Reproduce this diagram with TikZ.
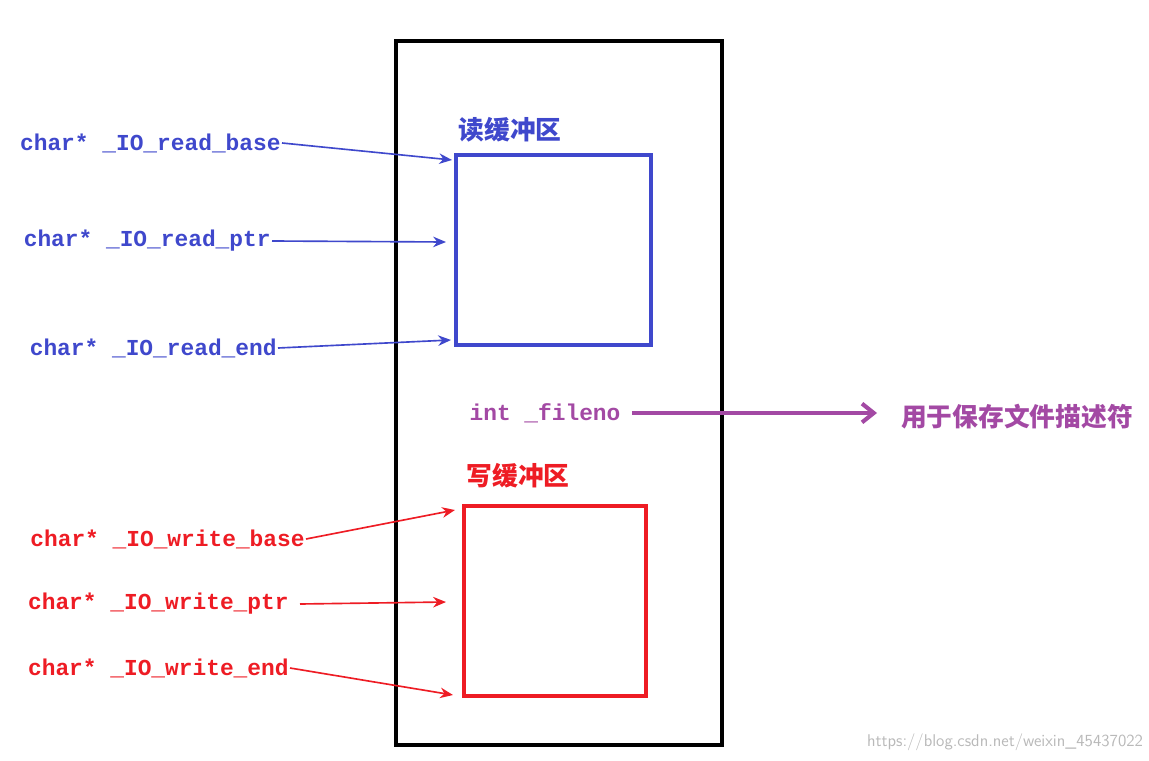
\documentclass[tikz,border=0pt]{standalone}
\usepackage{fontspec}
\setmonofont{Liberation Mono}
\newfontfamily\cjk{Noto Sans CJK SC}
\usetikzlibrary{arrows.meta}
\definecolor{bl}{HTML}{3F48CC}
\definecolor{rd}{HTML}{EE1C24}
\definecolor{pu}{HTML}{A349A4}
\tikzset{lbl/.style={font=\ttfamily\bfseries\fontsize{19.5}{22}\selectfont,inner sep=1pt},
cj/.style={font=\cjk\bfseries\fontsize{22}{24}\selectfont,inner sep=1pt},
arr/.style={-{Stealth[length=11pt,width=9pt]},line width=1.4pt}}
\begin{document}
\begin{tikzpicture}[x=0.03cm,y=-0.03cm]
\useasboundingbox (0,0) rectangle (1149,761);
\fill[white] (0,0) rectangle (1149,761);
\draw[line width=3pt] (396,41) rectangle (722,745);
\node[draw=bl,line width=3pt,minimum width=195*0.03cm,minimum height=190*0.03cm,inner sep=0] (rb) at (553.5,250) {};
\node[draw=rd,line width=3pt,minimum width=182*0.03cm,minimum height=190*0.03cm,inner sep=0] (wb) at (555,601) {};
\node[cj,text=bl] (rt) at (510,130) {读缓冲区};
\node[cj,text=rd] (wt) at (518,476) {写缓冲区};
\node[lbl,text=bl,anchor=east] (a1) at (282,143) {char* \_IO\_read\_base};
\node[lbl,text=bl,anchor=east] (a2) at (272,241) {char* \_IO\_read\_ptr};
\node[lbl,text=bl,anchor=east] (a3) at (278,348) {char* \_IO\_read\_end};
\node[lbl,text=rd,anchor=east] (b1) at (306,539) {char* \_IO\_write\_base};
\node[lbl,text=rd,anchor=east] (b2) at (290,604) {char* \_IO\_write\_ptr};
\node[lbl,text=rd,anchor=east] (b3) at (290,668) {char* \_IO\_write\_end};
\coordinate (p1) at (452,160); \coordinate (p2) at (446,242); \coordinate (p3) at (451,340);
\coordinate (q1) at (455,510); \coordinate (q2) at (446,602); \coordinate (q3) at (453,695);
\draw[arr,bl] (a1.east) -- (p1);
\draw[arr,bl] (a2.east) -- (p2);
\draw[arr,bl] (a3.east) -- (p3);
\draw[arr,rd] (b1.east) -- (q1);
\draw[arr,rd] (b2.east) ++(10,0) -- (q2);
\draw[arr,rd] (b3.east) -- (q3);
\node[lbl,text=pu] (fd) at (545,413) {int \_fileno};
\node[cj,text=pu] (ds) at (1017,417) {用于保存文件描述符};
\coordinate (fe) at (877,413);
\draw[pu,line width=3.5pt,-{Straight Barb[length=10pt,width=16pt]}] (fd.east)++(10,0) -- (fe);
\node[text=gray!55,font=\sffamily\fontsize{14.5}{16}\selectfont] (wm) at (1005,742) {https://blog.csdn.net/weixin\_45437022};
\end{tikzpicture}
\end{document}
